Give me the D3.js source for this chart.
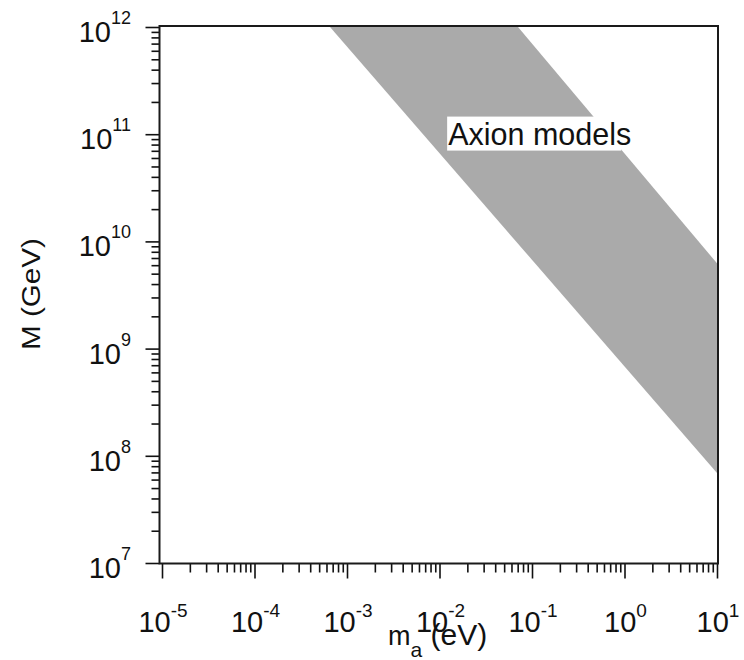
<!DOCTYPE html>
<html>
<head>
<meta charset="utf-8">
<script src="https://cdn.jsdelivr.net/npm/d3@7"></script>
<style>
  body { margin: 0; background: #fff; }
  svg { display: block; font-family: "Liberation Sans", Arial, sans-serif; }
  .tick line { stroke: #111; stroke-width: 1.6px; }
</style>
</head>
<body>
<div id="chart"></div>
<script>
'use strict';

// axis extents (eV on x, GeV on y)
const massDomain = [1e-5, 10];
const scaleDomain = [1e7, 1e12];

// decade ticks and their exponents
const massDecades = [1e-5, 1e-4, 1e-3, 1e-2, 1e-1, 1e0, 1e1];
const massExponents = ["-5", "-4", "-3", "-2", "-1", "0", "1"];
const scaleDecades = [1e7, 1e8, 1e9, 1e10, 1e11, 1e12];
const scaleExponents = ["7", "8", "9", "10", "11", "12"];

// edges of the axion band
const bandLowerEdge = [[6.55e-4, 1e12], [10, 6.9e7]];
const bandUpperEdge = [[0.0706, 1e12], [10, 6.25e9]];

const bandLabel = "Axion models";
const bandLabelAt = [0.0124, 8.0e10];

let width = 744;
let height = 660;

let svg = d3.select("#chart").append("svg")
    .attr("width", width)
    .attr("height", height);

let x = d3.scaleLog().domain(massDomain).range([162, 717]);
let y = d3.scaleLog().domain(scaleDomain).range([563, 27]);

// minor ticks 2..9 in every decade
function minorTicks(domain) {
    let out = [];
    for (let p = Math.round(Math.log10(domain[0])); p < Math.round(Math.log10(domain[1])); p++) {
        for (let k = 2; k <= 9; k++) out.push(k * Math.pow(10, p));
    }
    return out;
}

// band
let band = [bandLowerEdge[0], bandUpperEdge[0], bandUpperEdge[1], bandLowerEdge[1]];
svg.append("path")
    .attr("d", d3.line().x(function(d) { return x(d[0]); }).y(function(d) { return y(d[1]); })(band) + "Z")
    .attr("fill", "#aaaaaa");

// label with its white box
let lab = svg.append("g");
let labRect = lab.append("rect").attr("fill", "#fff");
let labText = lab.append("text")
    .attr("x", x(bandLabelAt[0]))
    .attr("y", y(bandLabelAt[1]))
    .attr("font-size", 30.5)
    .attr("fill", "#111")
    .text(bandLabel);
let bb = labText.node().getBBox();
labRect.attr("x", bb.x - 1).attr("y", bb.y).attr("width", bb.width - 9).attr("height", bb.height);

// x axis ticks
svg.append("g")
    .attr("transform", "translate(0,563.5)")
    .call(d3.axisBottom(x).tickValues(minorTicks(massDomain)).tickSize(9).tickFormat(""))
    .call(function(g) { g.select(".domain").remove(); });
svg.append("g")
    .attr("transform", "translate(0,563.5)")
    .call(d3.axisBottom(x).tickValues(massDecades).tickSize(15).tickFormat(""))
    .call(function(g) { g.select(".domain").remove(); });

// y axis ticks
svg.append("g")
    .attr("transform", "translate(159.5,0)")
    .call(d3.axisLeft(y).tickValues(minorTicks(scaleDomain)).tickSize(8).tickFormat(""))
    .call(function(g) { g.select(".domain").remove(); });
svg.append("g")
    .attr("transform", "translate(159.5,0)")
    .call(d3.axisLeft(y).tickValues(scaleDecades).tickSize(14).tickFormat(""))
    .call(function(g) { g.select(".domain").remove(); });

// frame
svg.append("rect")
    .attr("x", 159.5)
    .attr("y", 26)
    .attr("width", 718 - 159.5)
    .attr("height", 563.5 - 26)
    .attr("fill", "none")
    .attr("stroke", "#1a1a1a")
    .attr("stroke-width", 2);

// x tick labels: 10^n
let xl = svg.append("g").selectAll("text")
    .data(massDecades)
    .enter().append("text")
        .attr("x", function(d) { return x(d) + 1; })
        .attr("y", 631.5)
        .attr("text-anchor", "middle")
        .attr("fill", "#111");
xl.append("tspan").attr("font-size", 29).text("10");
xl.append("tspan").attr("font-size", 19).attr("dy", -15)
    .text(function(d, i) { return massExponents[i]; });

// y tick labels
let yl = svg.append("g").selectAll("text")
    .data(scaleDecades)
    .enter().append("text")
        .attr("x", 131)
        .attr("y", function(d) { return y(d) + 15; })
        .attr("text-anchor", "end")
        .attr("fill", "#111");
yl.append("tspan").attr("font-size", 29).text("10");
yl.append("tspan").attr("font-size", 18).attr("dy", -18)
    .text(function(d, i) { return scaleExponents[i]; });

// axis titles
let xt = svg.append("text")
    .attr("x", 388)
    .attr("y", 645)
    .attr("fill", "#111");
xt.append("tspan").attr("font-size", 27).text("m");
xt.append("tspan").attr("font-size", 21).attr("dy", 12).text("a");
xt.append("tspan").attr("font-size", 30).attr("dy", -12).text(" (eV)");

svg.append("text")
    .attr("transform", "translate(39.5,294)rotate(-90)")
    .attr("text-anchor", "middle")
    .attr("font-size", 25)
    .attr("textLength", 112)
    .attr("lengthAdjust", "spacingAndGlyphs")
    .attr("fill", "#111")
    .text("M (GeV)");
</script>
</body>
</html>
